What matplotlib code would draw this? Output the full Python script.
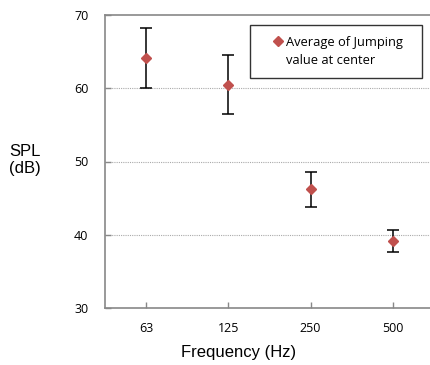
import matplotlib
matplotlib.use("Agg")
import matplotlib.pyplot as plt
from matplotlib.lines import Line2D

categories = ["63", "125", "250", "500"]
spl_mean = [64.1, 60.5, 46.2, 39.1]
spl_err = [4.1, 4.0, 2.4, 1.5]
y_ticks = [30, 40, 50, 60, 70]

plt.rcParams['font.family'] = ['Open Sans', 'DejaVu Sans']

fig = plt.figure(figsize=(4.3, 3.65), dpi=100)
ax = fig.add_axes([105/430, 1 - 308/365, (434-105)/430, (308-15)/365])

x = list(range(len(categories)))
ax.errorbar(x, spl_mean, yerr=spl_err, fmt='D', color='#C0504D', markersize=5.5,
            ecolor='black', elinewidth=1.1, capsize=4, capthick=1.1, zorder=3)

ax.set_xlim(-0.5, 3.5)
ax.set_ylim(30, 70)
ax.set_xticks(x)
ax.set_xticklabels(categories, fontsize=9)
ax.set_yticks(y_ticks)
ax.set_yticklabels([str(v) for v in y_ticks], fontsize=9)
ax.tick_params(axis='both', direction='in', length=4, color='#888888', width=1)
ax.tick_params(axis='y', pad=12)
ax.tick_params(axis='x', pad=10)

for v in [40, 50, 60]:
    ax.axhline(v, color='#aaaaaa', linestyle=(0, (1, 1)), linewidth=0.8, zorder=1)

for s in ['left', 'bottom', 'top']:
    ax.spines[s].set_color('#888888')
    ax.spines[s].set_linewidth(1.2)
ax.spines['right'].set_visible(False)

ax_w = 434 - 105
ax_h = 293
ax.set_xlabel('Frequency (Hz)', fontsize=12, family=['Liberation Sans'])
ax.xaxis.set_label_coords((239 - 105) / ax_w, -37 / ax_h)
fig.text(9/430, 1 - 160/365, 'SPL\n(dB)', fontsize=12, ha='left', va='center',
         linespacing=1.2, family=['Liberation Sans'])

handle = Line2D([], [], linestyle='none', marker='D', color='#C0504D', markersize=5)
blank = Line2D([], [], linestyle='none', marker=None)
leg = ax.legend([handle, blank], ['Average of Jumping', 'value at center'], loc='upper left',
                bbox_to_anchor=((250-105)/ax_w, 1 - 10/ax_h, (422-250)/ax_w, 0.0),
                mode='expand',
                frameon=True, fancybox=False, fontsize=9.3, handletextpad=-0.68,
                handlelength=2.6, borderpad=0.85, borderaxespad=0, labelspacing=0.42)
leg.get_frame().set_edgecolor('black')
leg.get_frame().set_linewidth(1.0)

fig.savefig('out.png', dpi=100)
